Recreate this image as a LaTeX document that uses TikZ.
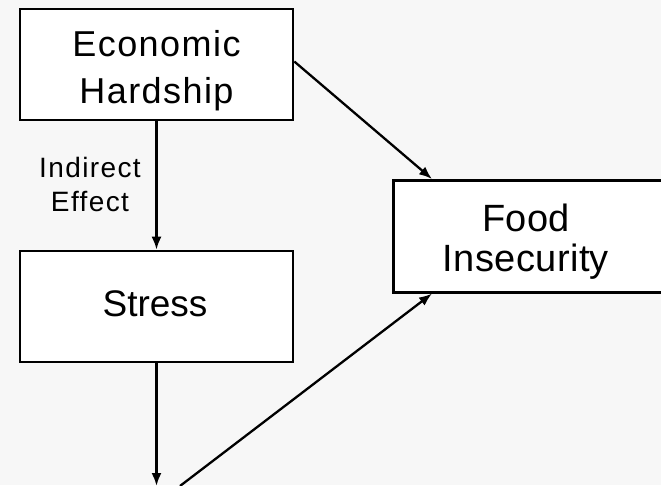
\documentclass[tikz,border=0pt]{standalone}
\usepackage{fontspec}
\setmainfont{Liberation Sans}
\newfontfamily\fbig[LetterSpace=4]{Liberation Sans}
\newfontfamily\ffood[LetterSpace=1]{Liberation Sans}
\newfontfamily\fsmall[LetterSpace=5]{Liberation Sans}
\usetikzlibrary{arrows.meta,calc}
\begin{document}
\begin{tikzpicture}[x=1pt,y=-1pt,
  box/.style={draw=black, line width=2.6pt, fill=white, inner sep=0pt, rectangle},
  conn/.style={line width=2.3pt, -{Latex[length=13pt,width=10pt]}},
  lbl/.style={inner sep=0pt, align=center, text=black}]
\fill[black!3] (0,0) rectangle (661,485);
\useasboundingbox (0,0) rectangle (661,485);
\node[box, minimum width=273pt, minimum height=111pt] (eh) at (156.5,64.5) {};
\node[box, minimum width=273pt, minimum height=111pt] (st) at (156.5,306.5) {};
\node[box, minimum width=272pt, minimum height=112pt, anchor=north west] (fi) at (392,179) {};
\node[lbl, font=\fbig\fontsize{36}{46.6}\selectfont] (ehtxt) at (156.5,70.9) {Economic\\Hardship};
\node[lbl, font=\ffood\fontsize{38}{40}\selectfont] (fitxt) at (526,242.1) {Food\\Insecurity};
\node[lbl, font=\fontsize{37}{40}\selectfont, anchor=base] (sttxt) at (155,316.7) {Stress};
\node[lbl, font=\fsmall\fontsize{28}{34}\selectfont] (ind) at (90,184) {Indirect\\Effect};
\coordinate (stend) at (156.5,486);
\coordinate (diagstart) at (180,486);
\draw[conn] (eh.south) -- (st.north);
\draw[conn] (st.south) -- (stend);
\draw[conn] (diagstart) -- ([xshift=40pt]fi.south west);
\draw[conn] ([yshift=3pt]eh.east) -- ([xshift=40pt]fi.north west);
\end{tikzpicture}
\end{document}
